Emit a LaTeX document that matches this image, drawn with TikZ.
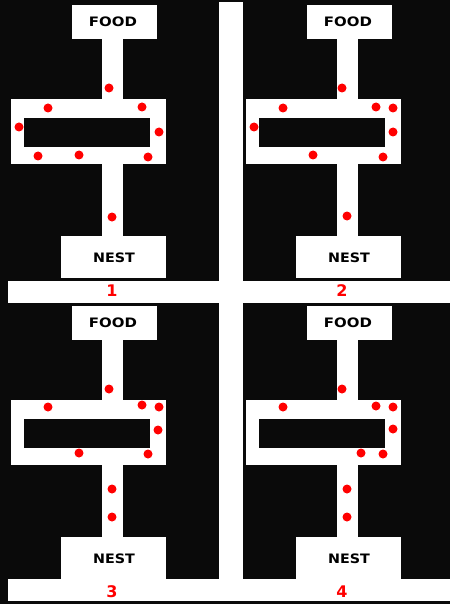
\documentclass[tikz,border=0pt]{standalone}
\usepackage{fontspec}
\setmainfont{DejaVu Sans}
\tikzset{
  open/.style={fill=white, draw=none},
  wall/.style={fill=black!96, draw=none},
  ant/.style={circle, fill=red, draw=none, inner sep=0pt, minimum size=9pt},
  place/.style={font=\bfseries\fontsize{13}{13}\selectfont, text=black, inner sep=0pt},
  tag/.style={font=\bfseries\fontsize{16}{16}\selectfont, text=red, inner sep=0pt}
}
\newcommand\mazepanel[3]{%
  \begin{scope}[shift={(#1,#2)}]
    \fill[open] (72,5) rectangle (157,39);
    \fill[open] (102,38) rectangle (123,100);
    \fill[open] (11,99) rectangle (166,164);
    \fill[wall] (24,118) rectangle (150,147);
    \fill[open] (102,163) rectangle (123,237);
    \fill[open] (61,236) rectangle (166,278);
    \node[place] (food#3) at (113,22) {\scalebox{1.15}[1]{FOOD}};
    \node[place] (nest#3) at (114,258) {\scalebox{1.1}[1]{NEST}};
  \end{scope}}
\begin{document}
\begin{tikzpicture}[x=1pt,y=-1pt]
  \useasboundingbox (0,0) rectangle (450,604);
  \fill[white] (0,0) rectangle (450,604);
  % frame strips
  \fill[wall] (0,0) rectangle (8,604);
  \fill[wall] (0,0) rectangle (450,2);
  \fill[wall] (0,601) rectangle (450,604);
  % panel backgrounds
  \fill[wall] (8,0) rectangle (219,281);
  \fill[wall] (243,0) rectangle (450,281);
  \fill[wall] (8,303) rectangle (219,579);
  \fill[wall] (243,303) rectangle (450,579);
  % panel layouts
  \mazepanel{0}{0}{A}
  \mazepanel{235}{0}{B}
  \mazepanel{0}{301}{C}
  \mazepanel{235}{301}{D}
  % ants, panel 1
  \foreach \p [count=\i] in {(109,88),(48,108),(142,107),(19,127),(159,132),(38,156),(79,155),(148,157),(112,217)}
    \node[ant] (antA\i) at \p {};
  % ants, panel 2
  \foreach \p [count=\i] in {(342,88),(283,108),(376,107),(393,108),(254,127),(393,132),(313,155),(383,157),(347,216)}
    \node[ant] (antB\i) at \p {};
  % ants, panel 3
  \foreach \p [count=\i] in {(109,389),(48,407),(142,405),(159,407),(158,430),(79,453),(148,454),(112,489),(112,517)}
    \node[ant] (antC\i) at \p {};
  % ants, panel 4
  \foreach \p [count=\i] in {(342,389),(283,407),(376,406),(393,407),(393,429),(361,453),(383,454),(347,489),(347,517)}
    \node[ant] (antD\i) at \p {};
  % panel numbers
  \node[tag] (lab1) at (112,291) {1};
  \node[tag] (lab2) at (342,291) {2};
  \node[tag] (lab3) at (112,592) {3};
  \node[tag] (lab4) at (342,592) {4};
\end{tikzpicture}
\end{document}
